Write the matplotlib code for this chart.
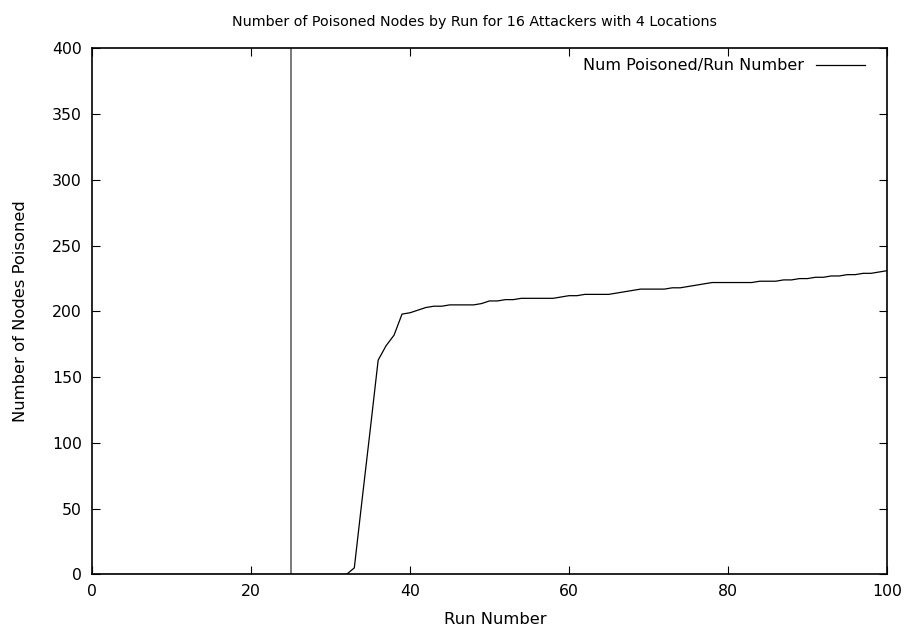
import numpy as np
import matplotlib
matplotlib.use('Agg')
import matplotlib.pyplot as plt

# poisoned node counts per run
runs = list(range(0, 101))
poisoned = [0] * 33 + [
    5, 58, 110, 163, 174, 182, 198, 199, 201, 203,      # 33-42
    204, 204, 205, 205, 205, 205, 206, 208, 208, 209,   # 43-52
    209, 210, 210, 210, 210, 210, 211, 212, 212, 213,   # 53-62
    213, 213, 213, 214, 215, 216, 217, 217, 217, 217,   # 63-72
    218, 218, 219, 220, 221, 222, 222, 222, 222, 222,   # 73-82
    222, 223, 223, 223, 224, 224, 225, 225, 226, 226,   # 83-92
    227, 227, 228, 228, 229, 229, 230, 231,             # 93-100
]
marker_run = 25

plt.rcParams['font.family'] = 'DejaVu Sans'
plt.rcParams['font.size'] = 10

fig = plt.figure(figsize=(9.06, 6.26), dpi=100)
ax = fig.add_axes([0.1015, 0.0823, 0.8775, 0.8403])

ax.plot(runs, poisoned, color='black', lw=0.9, label='Num Poisoned/Run Number')
ax.axvline(marker_run, color='#707070', lw=1.3)

ax.set_xlim(0, 100)
ax.set_ylim(0, 400)
ax.set_xticks(np.arange(0, 101, 20))
ax.set_yticks(np.arange(0, 401, 50))
ax.tick_params(direction='in', length=5.5, width=0.8, top=True, right=True,
               labelsize=11.3, pad=7.2)
for s in ax.spines.values():
    s.set_linewidth(1.2)

ax.set_xlabel('Run Number', fontsize=11.8, labelpad=9)
ax.xaxis.set_label_coords(0.507, -0.071)
ax.set_ylabel('Number of Nodes Poisoned', fontsize=11.8, labelpad=17)
ax.set_title('Number of Poisoned Nodes by Run for 16 Attackers with 4 Locations',
             fontsize=10.3, pad=16, x=0.481)

ax.legend(loc='upper right', frameon=False, markerfirst=False, fontsize=11.5,
          handlelength=3.05, handletextpad=0.75, borderpad=0, borderaxespad=0,
          bbox_to_anchor=(0.9723, 0.981))

fig.savefig('out.png', dpi=100)
